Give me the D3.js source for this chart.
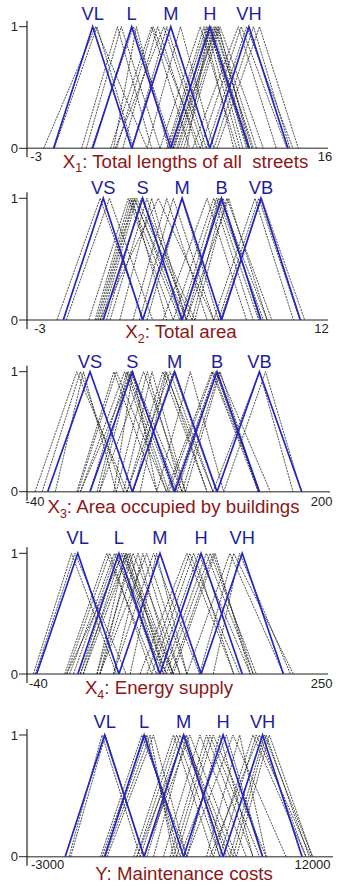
<!DOCTYPE html>
<html>
<head>
<meta charset="utf-8">
<script src="https://cdn.jsdelivr.net/npm/d3@7"></script>
<style>
  html, body { margin: 0; padding: 0; background: #fff; }
  svg { display: block; font-family: "Liberation Sans", Arial, sans-serif; }
</style>
</head>
<body>
<svg id="chart" width="337" height="886"></svg>
<script>
// ---- X1: Total lengths of all streets ----
const x1Terms = ["VL", "L", "M", "H", "VH"];
const x1Ticks = [-3, 16];
// final (optimised) membership functions [left foot, peak, right foot]
const x1Final = [[-1.85, 0.72, 3.29], [0.72, 3.29, 5.86], [3.29, 5.86, 8.43], [5.86, 8.43, 11.0], [8.43, 11.0, 13.57]];
// intermediate membership functions
const x1Runs = [
  [-2.5, 0.9, 4.3], [-1.8, 1.0, 3.4], [0.0, 2.35, 4.6], [0.3, 2.6, 5.15], [0.65, 3.4, 6.0],
  [2.1, 3.6, 5.7], [2.3, 4.7, 7.8], [2.7, 5.0, 7.6], [2.2, 5.4, 8.0], [3.3, 5.6, 8.2],
  [1.9, 4.6, 7.1], [4.3, 6.5, 8.7], [5.15, 7.8, 10.2], [5.6, 8.05, 10.0], [5.7, 8.2, 10.4],
  [6.0, 8.3, 10.95], [5.8, 8.45, 10.85], [6.25, 8.7, 11.3], [6.0, 8.9, 11.5], [6.5, 9.0, 11.05],
  [6.7, 9.1, 11.95], [6.1, 8.55, 11.05], [6.35, 8.8, 11.2], [6.9, 8.4, 10.6], [7.3, 10.3, 12.8],
  [7.8, 10.5, 13.5], [8.2, 10.85, 13.9], [8.7, 11.3, 13.7], [8.9, 11.7, 14.25]
];

// ---- X2: Total area ----
const x2Terms = ["VS", "S", "M", "B", "VB"];
const x2Ticks = [-3, 12];
const x2Final = [[-1.76, 0.37, 2.47], [0.37, 2.47, 4.57], [2.47, 4.57, 6.67], [4.57, 6.67, 8.77], [6.67, 8.77, 10.87]];
const x2Runs = [
  [-2.1, 0.2, 2.5], [-1.6, 0.7, 3.0], [-0.4, 1.7, 4.1], [-0.07, 1.8, 4.45], [0.02, 1.9, 3.75],
  [0.1, 2.0, 4.8], [0.2, 2.05, 4.55], [0.3, 2.15, 5.1], [0.55, 2.4, 5.25], [0.73, 2.7, 4.8],
  [1.25, 2.95, 4.8], [0.2, 3.3, 6.25], [1.95, 3.75, 5.9], [2.3, 4.1, 6.25], [2.7, 4.55, 6.5],
  [3.55, 5.9, 8.0], [4.1, 6.25, 8.35], [4.45, 6.4, 8.65], [4.8, 6.5, 8.9], [4.55, 6.6, 9.1],
  [5.1, 6.75, 8.7], [5.25, 6.95, 9.35], [4.8, 7.05, 9.1], [6.25, 8.45, 10.5], [6.5, 8.65, 10.85],
  [6.6, 8.8, 11.1]
];

// ---- X3: Area occupied by buildings ----
const x3Terms = ["VS", "S", "M", "B", "VB"];
const x3Ticks = [-40, 200];
const x3Final = [[-29.4, 6.05, 41.5], [6.05, 41.5, 76.95], [41.5, 76.95, 112.4], [76.95, 112.4, 147.85], [112.4, 147.85, 183.3]];
const x3Runs = [
  [-40, -5, 37], [-34, -2, 34], [-23, 0.5, 28], [-5, 26, 62], [-4, 28, 70],
  [-2, 35, 70], [6, 37, 72], [12, 38, 76], [14, 40, 79], [-2, 41, 83],
  [26, 42, 62], [14, 51, 86], [28, 54, 83], [34, 58, 86], [37, 67, 104],
  [42, 69, 109], [48, 70, 104], [37, 73, 109], [42, 76, 112], [62, 90, 118],
  [70, 108, 147], [72, 109, 148], [76, 111, 148], [79, 112, 147], [83, 114, 157],
  [86, 115, 147], [109, 148, 176], [118, 153, 183]
];

// ---- X4: Energy supply ----
const x4Terms = ["VL", "L", "M", "H", "VH"];
const x4Ticks = [-40, 250];
const x4Final = [[-41.7, 0.4, 42.5], [0.4, 42.5, 84.5], [42.5, 84.5, 126.6], [84.5, 126.6, 168.7], [126.6, 168.7, 210.8]];
const x4Runs = [
  [-45, -6, 40], [-43, -2.5, 50], [-13, 30, 81], [-11, 33, 76], [-8, 38, 88],
  [-4, 40, 84], [3, 42, 91], [6, 45, 96], [-11, 47, 98], [20, 49, 84],
  [3, 50, 91], [6, 52, 98], [23, 54, 88], [20, 57, 105], [23, 62, 98],
  [37, 67, 105], [23, 71, 112], [37, 78, 125], [54, 81, 112], [64, 112, 160],
  [71, 115, 166], [76, 119, 160], [81, 124, 177], [88, 132, 180], [91, 136, 183],
  [96, 139, 180], [98, 141, 177], [112, 156, 211], [125, 160, 221], [139, 166, 218]
];

// ---- Y: Maintenance costs ----
const yTerms = ["VL", "L", "M", "H", "VH"];
const yTicks = [-3000, 12000];
const yFinal = [[-2000, 235, 2470], [235, 2470, 4705], [2470, 4705, 6940], [4705, 6940, 9175], [6940, 9175, 11410]];
const yRuns = [
  [-1780, 90, 2250], [-1690, 280, 2440], [0, 2340, 4880], [90, 2530, 4500], [190, 2630, 4310],
  [280, 2810, 4130], [380, 3000, 4880], [1880, 4130, 6380], [2060, 4310, 6750], [2250, 4500, 7310],
  [2630, 4690, 7500], [2060, 4780, 7130], [3000, 4880, 6750], [2440, 5060, 7690], [3560, 5630, 8250],
  [3940, 6000, 8630], [4130, 6190, 9000], [4310, 6380, 9380], [4880, 6750, 8630], [4500, 7130, 9190],
  [4880, 7500, 10500], [6000, 7880, 9380], [6380, 8630, 11630], [6750, 8810, 11910], [6190, 9000, 11630],
  [7310, 9280, 12000], [7500, 9380, 11810], [7690, 9560, 12000]
];

// Panel layout: tick positions in px, the baseline (0) and top (1) rows, text rows
const panels = [
  { terms: x1Terms, ticks: x1Ticks, final: x1Final, runs: x1Runs,
    title: ["X", "1", ": Total lengths of all  streets"], titleX: 185.5, titleY: 167.5,
    px: [36.1, 324.9], y0: 148.3, y1: 26.7, axisEnd: 328, termY: 20.3, tickY: 161.3 },
  { terms: x2Terms, ticks: x2Ticks, final: x2Final, runs: x2Runs,
    title: ["X", "2", ": Total area"], titleX: 181, titleY: 338.2,
    px: [40, 321.6], y0: 320, y1: 198.3, axisEnd: 328, termY: 194, tickY: 333 },
  { terms: x3Terms, ticks: x3Ticks, final: x3Final, runs: x3Runs,
    title: ["X", "3", ": Area occupied by buildings"], titleX: 173.5, titleY: 513.3,
    px: [35, 321.7], y0: 491.7, y1: 371.7, axisEnd: 330, termY: 368.3, tickY: 506 },
  { terms: x4Terms, ticks: x4Ticks, final: x4Final, runs: x4Runs,
    title: ["X", "4", ": Energy supply"], titleX: 159, titleY: 694,
    px: [38.3, 321.7], y0: 674, y1: 553.3, axisEnd: 328, termY: 543.5, tickY: 687.5 },
  { terms: yTerms, ticks: yTicks, final: yFinal, runs: yRuns,
    title: ["Y: Maintenance costs"], titleX: 184, titleY: 880,
    px: [47.5, 312.5], y0: 856.7, y1: 735, axisEnd: 333, termY: 728.3, tickY: 869 }
];

const svg = d3.select("#chart");
const axisX = 27;

panels.forEach(p => {
  const x = d3.scaleLinear().domain(p.ticks).range(p.px);
  const y = d3.scaleLinear().domain([0, 1]).range([p.y0, p.y1]);
  const tri = d3.line().x(d => x(d[0])).y(d => y(d[1]));
  const pts = t => [[t[0], 0], [t[1], 1], [t[2], 0]];

  const g = svg.append("g");

  // x axis (grey baseline) and y axis
  g.append("line")
    .attr("x1", axisX).attr("x2", p.axisEnd)
    .attr("y1", y(0)).attr("y2", y(0))
    .attr("stroke", "#6a6a6a").attr("stroke-width", 1.4);
  g.append("line")
    .attr("x1", axisX).attr("x2", axisX)
    .attr("y1", y(1) - 6).attr("y2", y(0) + 9)
    .attr("stroke", "#111").attr("stroke-width", 1.1);

  // y ticks 0 and 1
  [0, 1].forEach(v => {
    g.append("line")
      .attr("x1", axisX - 8).attr("x2", axisX)
      .attr("y1", y(v)).attr("y2", y(v))
      .attr("stroke", "#222").attr("stroke-width", 1);
    g.append("text")
      .attr("x", axisX - 9).attr("y", y(v) + 4.6)
      .attr("text-anchor", "end")
      .attr("font-size", 13).attr("fill", "#222")
      .text(v);
  });

  // end labels of the x axis
  p.ticks.forEach(t => {
    g.append("text")
      .attr("x", x(t)).attr("y", p.tickY)
      .attr("text-anchor", "middle")
      .attr("font-size", 13).attr("fill", "#222")
      .text(t);
  });

  // intermediate membership functions (dotted)
  g.append("g").selectAll("path").data(p.runs).join("path")
    .attr("d", d => tri(pts(d)))
    .attr("fill", "none")
    .attr("stroke", "#151515")
    .attr("stroke-width", 0.85)
    .attr("stroke-dasharray", "2,1")
    .attr("stroke-opacity", 0.9);

  // final membership functions (blue)
  g.append("g").selectAll("path").data(p.final).join("path")
    .attr("d", d => tri(pts(d)))
    .attr("fill", "none")
    .attr("stroke", "#2424c4")
    .attr("stroke-width", 1.7)
    .attr("stroke-linejoin", "miter");

  // linguistic term labels above each peak
  g.append("g").selectAll("text").data(p.final).join("text")
    .attr("x", d => x(d[1]))
    .attr("y", p.termY)
    .attr("text-anchor", "middle")
    .attr("font-size", 18.3)
    .attr("fill", "#1e1e9a")
    .text((d, i) => p.terms[i]);

  // variable title with subscript
  const tt = g.append("text")
    .attr("x", p.titleX).attr("y", p.titleY)
    .attr("text-anchor", "middle")
    .attr("font-size", 18.7)
    .attr("fill", "#8e1616")
    .style("white-space", "pre");
  if (p.title.length === 3) {
    tt.append("tspan").text(p.title[0]);
    tt.append("tspan").attr("font-size", 12.5).attr("dy", 4.5).text(p.title[1]);
    tt.append("tspan").attr("dy", -4.5).text(p.title[2]);
  } else {
    tt.text(p.title[0]);
  }
});
</script>
</body>
</html>
